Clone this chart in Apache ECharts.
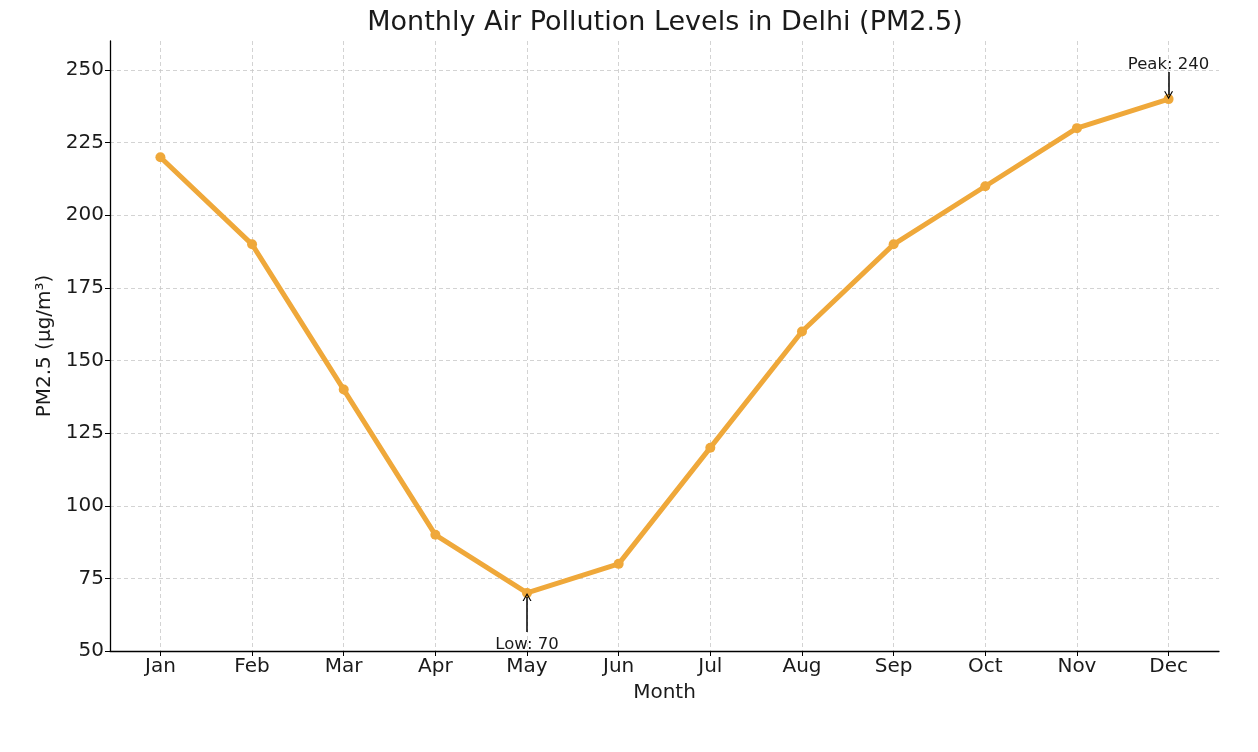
<!DOCTYPE html>
<html>
<head>
<meta charset="utf-8">
<script src="https://cdn.jsdelivr.net/npm/echarts@6/dist/echarts.min.js"></script>
<style>
html,body{margin:0;padding:0;background:#fff;}
#c{width:1258px;height:752px;}
</style>
</head>
<body>
<div id="c"></div>
<script>
const months = ['Jan','Feb','Mar','Apr','May','Jun','Jul','Aug','Sep','Oct','Nov','Dec'];
const pm25 = [220,190,140,90,70,80,120,160,190,210,230,240];
const yTicks = [50,75,100,125,150,175,200,225,250];
const peakLabel = 'Peak: 240';
const lowLabel = 'Low: 70';

const idx = months.map((m,i)=>i);
const data = pm25.map((v,i)=>[i,v]);
const peakI = pm25.indexOf(Math.max(...pm25));
const lowI = pm25.indexOf(Math.min(...pm25));
const font = 'DejaVu Sans';
const txt = '#1a1a1a';

const chart = echarts.init(document.getElementById('c'), null, {renderer:'canvas'});
chart.setOption({
  animation:false,
  backgroundColor:'#fff',
  title:{
    text:'Monthly Air Pollution Levels in Delhi (PM2.5)',
    left:660, top:4, textAlign:'center',
    textStyle:{fontFamily:font,fontSize:27,fontWeight:'normal',color:txt}
  },
  grid:{left:110,right:39,top:41,bottom:101,containLabel:false},
  xAxis:{
    type:'value', min:-0.55, max:11.55,
    name:'Month', nameLocation:'middle', nameGap:32,
    nameTextStyle:{fontFamily:font,fontSize:20,color:txt},
    axisLine:{show:true,onZero:false,lineStyle:{color:'#000',width:1.3}},
    axisTick:{show:true,length:5,customValues:idx,lineStyle:{color:'#000',width:1}},
    axisLabel:{customValues:idx,formatter:(v)=>months[Math.round(v)],margin:6,
      fontFamily:font,fontSize:20,color:txt},
    splitLine:{show:true,lineStyle:{type:[4,3],color:'#c8c8c8',width:0.8}}
  },
  yAxis:{
    type:'value', min:50, max:260, interval:25,
    name:'PM2.5 (μg/m³)', nameLocation:'middle', nameGap:52,
    nameTextStyle:{fontFamily:font,fontSize:20,color:txt},
    axisLine:{show:true,onZero:false,lineStyle:{color:'#000',width:1.3}},
    axisTick:{show:true,length:5,customValues:yTicks,lineStyle:{color:'#000',width:1}},
    axisLabel:{customValues:yTicks,margin:6,fontFamily:font,fontSize:20,color:txt},
    splitLine:{show:true,lineStyle:{type:[4,3],color:'#c8c8c8',width:0.8}}
  },
  series:[{
    type:'line',
    data:data,
    symbol:'circle', symbolSize:10,
    lineStyle:{color:'#EFA83A',width:5},
    itemStyle:{color:'#EFA83A'},
    z:3,
    markLine:{
      silent:true,
      symbol:['none','path://M0,10 L5,0 L10,10 L8.6,10 L5,2.8 L1.4,10 Z'], symbolSize:[9,8],
      label:{show:false},
      lineStyle:{color:'#000',width:1.5,type:'solid'},
      itemStyle:{color:'#000'},
      data:[
        [{coord:[peakI,249.3]},{coord:[peakI,241.3]}],
        [{coord:[lowI,56.5]},{coord:[lowI,68.6]}]
      ]
    },
    markPoint:{
      silent:true,
      symbol:'rect', symbolSize:1,
      itemStyle:{color:'rgba(0,0,0,0)'},
      label:{show:true,position:'inside',fontFamily:font,fontSize:16.5,color:txt},
      data:[
        {coord:[peakI,252.0],label:{formatter:peakLabel}},
        {coord:[lowI,52.0],label:{formatter:lowLabel}}
      ]
    }
  }]
});
</script>
</body>
</html>
